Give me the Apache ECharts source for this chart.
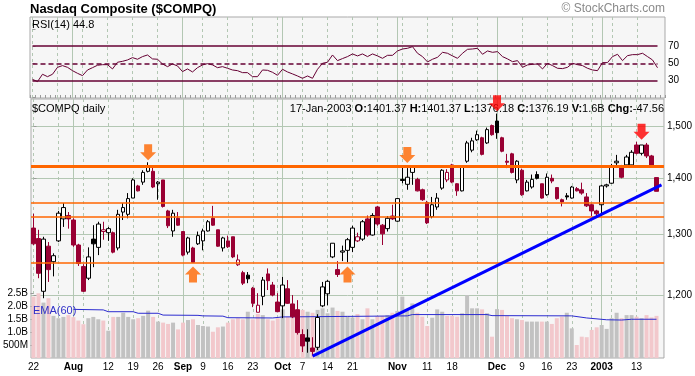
<!DOCTYPE html>
<html style="height: 100%">
<head>
    <meta charset="utf-8">
</head>
<body style="height: 100%; margin: 0; background: #ffffff">
<div id="container" style="width: 695px; height: 376px"></div>
<script type="text/javascript" src="https://cdn.jsdelivr.net/npm/echarts@6/dist/echarts.min.js"></script>
<script type="text/javascript">
    var dom = document.getElementById("container");
    var myChart = echarts.init(dom);

    // trading days, 22-Jul-2002 .. 17-Jan-2003 (last slot = next session, room for the trend line)
    var dates = ['7/22','7/23','7/24','7/25','7/26','7/29','7/30','7/31',
        '8/1','8/2','8/5','8/6','8/7','8/8','8/9','8/12','8/13','8/14','8/15','8/16','8/19','8/20','8/21','8/22','8/23','8/26','8/27','8/28','8/29','8/30',
        '9/3','9/4','9/5','9/6','9/9','9/10','9/11','9/12','9/13','9/16','9/17','9/18','9/19','9/20','9/23','9/24','9/25','9/26','9/27','9/30',
        '10/1','10/2','10/3','10/4','10/7','10/8','10/9','10/10','10/11','10/14','10/15','10/16','10/17','10/18','10/21','10/22','10/23','10/24','10/25','10/28','10/29','10/30','10/31',
        '11/1','11/4','11/5','11/6','11/7','11/8','11/11','11/12','11/13','11/14','11/15','11/18','11/19','11/20','11/21','11/22','11/25','11/26','11/27','11/29',
        '12/2','12/3','12/4','12/5','12/6','12/9','12/10','12/11','12/12','12/13','12/16','12/17','12/18','12/19','12/20','12/23','12/24','12/26','12/27','12/30','12/31',
        '1/2','1/3','1/6','1/7','1/8','1/9','1/10','1/13','1/14','1/15','1/16','1/17','1/21'];

    var openList = [1311,1293,1206,1280,1254,1289,1327,1333,1325,1282,1246,1227,1292,1278,1305,1303,1303,1277,1339,1335,1364,1386,1393,1413,1413,1390,1397,1341,1306,1328,
        1305,1270,1277,1284,1289,1306,1328,1308,1277,1289,1296,1249,1236,1232,1211,1173,1198,1234,1216,1189,
        1183,1210,1186,1177,1139,1134,1119,1120,1183,1202,1262,1241,1270,1273,1278,1289,1292,1327,1299,1348,1316,1310,1332,
        1323,1398,1389,1411,1398,1379,1356,1331,1348,1382,1397,1425,1390,1377,1432,1453,1473,1477,1467,1501,
        1510,1477,1432,1446,1397,1415,1377,1384,1407,1390,1370,1400,1383,1361,1368,1364,1381,1379,1366,1352,1341,
        1352,1386,1391,1429,1423,1425,1425,1463,1447,1463,1442,1401.37];
    var highList = [1336,1308,1296,1287,1268,1341,1355,1339,1328,1284,1250,1278,1316,1322,1322,1313,1305,1343,1355,1373,1400,1388,1415,1430,1423,1395,1397,1343,1343,1339,
        1305,1296,1279,1305,1310,1325,1350,1308,1296,1298,1296,1266,1239,1237,1213,1203,1229,1243,1221,1203,
        1229,1224,1200,1192,1147,1147,1135,1170,1221,1224,1285,1255,1281,1294,1315,1303,1325,1333,1337,1350,1318,1332,1352,
        1364,1423,1419,1423,1401,1381,1359,1366,1373,1417,1417,1427,1391,1423,1471,1477,1491,1479,1497,1503,
        1525,1479,1446,1448,1434,1418,1397,1407,1413,1390,1409,1407,1384,1363,1373,1386,1384,1392,1373,1354,1343,
        1388,1390,1427,1444,1425,1444,1453,1469,1463,1467,1444,1401.37];
    var lowList = [1282,1227,1195,1221,1230,1287,1313,1310,1279,1247,1205,1224,1245,1265,1291,1289,1268,1273,1325,1328,1364,1376,1388,1411,1382,1361,1347,1311,1296,1315,
        1263,1266,1253,1282,1273,1305,1315,1279,1271,1277,1260,1247,1216,1219,1181,1173,1184,1208,1198,1173,
        1164,1186,1164,1139,1113,1112,1108,1116,1181,1184,1260,1229,1255,1253,1270,1287,1289,1296,1298,1315,1282,1305,1325,
        1322,1391,1379,1388,1376,1359,1318,1328,1343,1379,1393,1391,1368,1376,1429,1449,1471,1443,1465,1481,
        1475,1449,1419,1409,1391,1368,1376,1381,1398,1363,1368,1391,1361,1349,1361,1363,1376,1370,1348,1332,1332,
        1332,1383,1390,1423,1400,1420,1420,1445,1443,1438,1420,1376.18];
    var closeList = [1284,1235,1292,1241,1264,1337,1347,1327,1282,1251,1206,1262,1284,1318,1308,1310,1270,1335,1347,1363,1397,1377,1411,1423,1384,1393,1349,1315,1337,1316,
        1265,1294,1253,1298,1306,1322,1316,1280,1294,1279,1262,1257,1219,1226,1187,1184,1224,1223,1200,1174,
        1216,1187,1166,1142,1122,1129,1114,1165,1213,1222,1285,1233,1272,1291,1311,1296,1322,1299,1333,1318,1301,1328,1327,
        1363,1396,1402,1421,1377,1361,1320,1352,1364,1415,1411,1393,1377,1421,1467,1471,1483,1445,1493,1483,
        1487,1451,1430,1411,1432,1370,1393,1398,1400,1364,1402,1395,1363,1357,1366,1384,1377,1373,1350,1341,1336,
        1386,1388,1423,1432,1402,1440,1449,1447,1463,1442,1423.75,1376.19];
    // volume, billions of shares
    var volumeList = [2.36,2.49,2.13,2.30,1.62,1.53,1.58,1.65,1.57,1.44,1.30,1.53,1.58,1.49,1.44,1.05,1.58,1.58,1.74,1.58,1.49,1.53,1.62,1.82,1.58,1.40,1.36,1.31,1.36,1.10,
        1.36,1.46,1.49,1.27,1.23,1.21,1.01,1.18,1.21,1.36,1.49,1.53,1.49,1.78,1.49,1.69,1.65,1.49,1.44,1.53,
        1.87,1.58,1.72,1.85,1.85,1.78,1.74,1.85,1.91,1.72,1.94,1.81,1.78,1.62,1.56,1.69,1.49,1.91,1.49,1.62,1.62,1.65,1.74,
        1.81,2.36,1.82,2.10,1.74,1.59,1.23,1.55,1.87,1.78,1.62,1.62,1.59,1.72,2.42,1.91,1.91,1.87,1.72,0.82,
        1.88,1.85,1.62,1.53,1.49,1.46,1.40,1.40,1.40,1.40,1.40,1.31,1.53,1.59,1.74,1.14,0.50,0.82,0.80,1.08,1.18,
        1.27,1.12,1.53,1.74,1.53,1.65,1.65,1.59,1.53,1.65,1.56,1.62];
    var rsiList = [31.3,28.6,37.2,34.4,37.2,45.3,47.3,45.3,41.4,38.3,35.6,42.2,44.9,47.7,48.4,48.4,43.4,51.2,52.3,53.9,56.6,54.7,57.8,59.7,55.1,54.7,49.2,46.1,49.2,46.9,
        40.3,43.4,39.9,44.9,48.1,49.6,48.1,44.9,46.1,44.2,42.2,41.4,39.1,39.1,34.4,34.4,42.2,41.8,39.5,36.0,
        43.0,39.9,37.6,35.2,32.5,35.2,32.5,43.0,50.0,51.2,59.7,53.1,55.5,57.8,60.9,58.6,60.9,57.8,60.9,58.6,55.8,59.3,59.3,
        64.4,66.7,67.5,69.4,61.7,57.8,51.6,54.7,57.0,62.8,61.7,58.6,55.8,61.7,66.3,66.7,67.5,60.5,64.4,62.8,
        63.6,57.8,55.1,51.9,53.1,45.3,48.1,48.8,49.2,43.4,50.0,47.3,44.2,43.8,45.3,50.0,48.4,47.3,44.2,42.2,41.4,
        50.8,50.8,57.8,60.5,53.1,58.9,60.1,60.1,61.7,57.8,53.9,44.8];
    // EMA(60) of volume, read where the line changes level
    var emaPoints = [['8/1',1.87],['8/9',1.85],['8/12',1.78],['8/19',1.78],['8/20',1.72],['8/26',1.72],['8/27',1.65],['9/6',1.64],['9/9',1.62],
        ['9/13',1.61],['9/16',1.55],['9/27',1.54],['10/1',1.58],['10/18',1.60],['11/5',1.62],['11/6',1.67],['11/27',1.67],['11/29',1.63],
        ['12/23',1.62],['12/27',1.54],['1/3',1.47],['1/8',1.46],['1/10',1.49],['1/17',1.49]];

    var trendLine = [['10/9', 1107], ['1/21', 1388]];
    var orangeLevels = [1423, 1356, 1330, 1253];
    var rsiLevels = [70, 50, 30];
    var orangeDown = [['8/22', 1449], ['11/5', 1444]];
    var redDown = [['12/2', 1546], ['1/14', 1489]];
    var orangeUp = [['9/5', 1233], ['10/18', 1233]];

    var weekStarts = ['7/22','7/29','8/5','8/12','8/19','8/26','9/9','9/16','9/23','9/30','10/7','10/14','10/21','10/28',
        '11/4','11/11','11/18','11/25','12/9','12/16','12/23','12/30','1/6','1/13'];
    var monthLabels = [['8/1','Aug'],['9/3','Sep'],['10/1','Oct'],['11/1','Nov'],['12/2','Dec'],['1/2','2003']];
    var dayLabels = [['7/22','22'],['8/12','12'],['8/19','19'],['8/26','26'],['9/9','9'],['9/16','16'],['9/23','23'],
        ['10/7','7'],['10/14','14'],['10/21','21'],['11/11','11'],['11/18','18'],['12/9','9'],['12/16','16'],['12/23','23'],['1/13','13']];
    var priceTicks = [1200, 1300, 1400, 1500];
    var volumeTicks = [0.5, 1.0, 1.5, 2.0, 2.5];
    var rsiTicks = [30, 50, 70];

    var FONT = 'Liberation Sans, Arial, sans-serif';
    var GRIDC = '#b3c7b3';
    var DOWN_ARROW = 'path://M4,0 L12,0 L12,8 L16,8 L8,16 L0,8 L4,8 Z';
    var UP_ARROW = 'path://M8,0 L16,8 L12,8 L12,16 L4,16 L4,8 L0,8 Z';

    function idx(d) { return dates.indexOf(d); }

    var weekIdx = weekStarts.map(idx);
    var monthIdx = monthLabels.map(function (m) { return idx(m[0]); });
    var labelText = {};
    dayLabels.forEach(function (l) { labelText[idx(l[0])] = l[1]; });
    monthLabels.forEach(function (l) { labelText[idx(l[0])] = '{b|' + l[1] + '}'; });
    var labelIdx = Object.keys(labelText).map(Number);

    var candleData = [];
    var volData = [];
    for (let i = 0; i < closeList.length; i++) {
        const down = i === 0 || closeList[i] < closeList[i - 1];
        const edge = down ? '#990033' : '#000000';
        const fill = closeList[i] > openList[i] ? '#ffffff' : edge;
        candleData.push({
            value: [openList[i], closeList[i], lowList[i], highList[i]],
            itemStyle: {color: fill, color0: fill, borderColor: edge, borderColor0: edge}
        });
        volData.push({value: volumeList[i], itemStyle: {color: down ? '#f2c8cc' : '#c2c2c2'}});
    }

    var n = closeList.length - 1;
    var header = '17-Jan-2003 {b|O:}' + openList[n].toFixed(2) + ' {b|H:}' + highList[n].toFixed(2) +
        ' {b|L:}' + lowList[n].toFixed(2) + ' {b|C:}' + closeList[n].toFixed(2) +
        ' {b|V:}' + volumeList[n].toFixed(1) + 'B {b|Chg:}' + (closeList[n] - closeList[n - 1]).toFixed(2);

    function gridAxis(gridIndex, ticks, type) {
        return {
            type: 'value', gridIndex: gridIndex, min: -0.5, max: dates.length - 0.5,
            axisLine: {show: false}, axisLabel: {show: false},
            axisTick: {show: false, customValues: ticks},
            splitLine: {show: true, lineStyle: {color: GRIDC, width: 1, type: type}}
        };
    }

    var mainLabelAxis = gridAxis(1, weekIdx, [3, 3]);
    mainLabelAxis.position = 'bottom';
    mainLabelAxis.axisLabel = {
        show: true, customValues: labelIdx, fontSize: 10, color: '#000', margin: 4, fontFamily: FONT,
        formatter: function (v) { return labelText[Math.round(v)] || ''; },
        rich: {b: {fontWeight: 'bold', fontSize: 10, fontFamily: FONT}}
    };

    function arrowSeries(points, symbol, color) {
        return {
            type: 'scatter', xAxisIndex: 3, yAxisIndex: 1, data: points, symbol: symbol,
            symbolSize: [16, 16], itemStyle: {color: color}, z: 10, clip: false, silent: true
        };
    }

    var option = {
        animation: false,
        backgroundColor: '#ffffff',
        textStyle: {fontFamily: FONT},
        title: [
            {text: 'Nasdaq Composite ($COMPQ)', left: 30, top: 3, padding: 0,
                textStyle: {fontSize: 13, fontWeight: 'bold', color: '#000', fontFamily: FONT}},
            {text: '\u00a9 StockCharts.com', right: 30, top: 3, padding: 0,
                textStyle: {fontSize: 12, fontWeight: 'normal', color: '#8a8a8a', fontFamily: FONT}},
            {text: 'RSI(14) ' + rsiList[n].toFixed(1), left: 32, top: 19, padding: 0,
                textStyle: {fontSize: 11, fontWeight: 'normal', color: '#000', fontFamily: FONT}},
            {text: '$COMPQ daily', left: 32, top: 103, padding: 0,
                textStyle: {fontSize: 11, fontWeight: 'normal', color: '#000', fontFamily: FONT}},
            {text: header, right: 31, top: 103, padding: 0,
                textStyle: {fontSize: 11, fontWeight: 'normal', color: '#000', fontFamily: FONT,
                    rich: {b: {fontWeight: 'bold', fontSize: 11, fontFamily: FONT}}}},
            {text: 'EMA(60)', left: 33, top: 305, padding: 0,
                textStyle: {fontSize: 11, fontWeight: 'normal', color: '#3030c8', fontFamily: FONT}}
        ],
        grid: [
            {left: 30, top: 17, width: 635, height: 81, show: true, backgroundColor: '#f6f6f6', borderColor: '#a9a9a9', borderWidth: 1},
            {left: 30, top: 99, width: 635, height: 259, show: true, backgroundColor: '#f6f6f6', borderColor: '#a9a9a9', borderWidth: 1}
        ],
        xAxis: [
            {type: 'category', gridIndex: 0, data: dates, position: 'bottom',
                axisLine: {show: false}, axisLabel: {show: false}, splitLine: {show: false},
                axisTick: {show: true, inside: true, interval: 0, length: 3, lineStyle: {color: '#9a9a9a'}}},
            gridAxis(0, weekIdx, [3, 3]),
            gridAxis(0, monthIdx, 'solid'),
            {type: 'category', gridIndex: 1, data: dates, position: 'top',
                axisLine: {show: false}, axisLabel: {show: false}, axisTick: {show: false}, splitLine: {show: false}},
            mainLabelAxis,
            gridAxis(1, monthIdx, 'solid')
        ],
        yAxis: [
            {type: 'value', gridIndex: 0, min: 9.5, max: 104, position: 'right',
                axisLine: {show: false}, splitLine: {show: false},
                axisTick: {show: true, customValues: [10, 30, 50, 70, 90], length: 3, lineStyle: {color: '#9a9a9a'}},
                axisLabel: {customValues: rsiTicks, fontSize: 10, color: '#000', margin: 3, fontFamily: FONT}},
            {type: 'log', logBase: 10, gridIndex: 1, min: 1104.3, max: 1554.6, position: 'right',
                axisLine: {show: false},
                axisTick: {show: true, customValues: priceTicks, length: 3, lineStyle: {color: '#9a9a9a'}},
                axisLabel: {customValues: priceTicks, fontSize: 10, color: '#000', margin: 3, fontFamily: FONT},
                splitLine: {show: true, lineStyle: {color: GRIDC, width: 1}}},
            {type: 'value', gridIndex: 1, min: 0, max: 9.96, position: 'left',
                axisLine: {show: false}, splitLine: {show: false},
                axisTick: {show: true, customValues: volumeTicks, length: 3, lineStyle: {color: '#9a9a9a'}},
                axisLabel: {customValues: volumeTicks, fontSize: 10, color: '#000', margin: 3, fontFamily: FONT,
                    formatter: function (v) { return v < 1 ? Math.round(v * 1000) + 'M' : v.toFixed(1) + 'B'; }}}
        ],
        series: [
            {
                name: 'RSI', type: 'line', xAxisIndex: 0, yAxisIndex: 0, data: rsiList,
                symbol: 'none', lineStyle: {color: '#660033', width: 1}, z: 3, silent: true,
                markLine: {
                    silent: true, symbol: ['none', 'none'], label: {show: false},
                    lineStyle: {color: '#660033', width: 1.5, type: 'solid'},
                    data: rsiLevels.map(function (lv) {
                        return [{coord: [dates[0], lv], lineStyle: {type: lv === 50 ? [5, 3] : 'solid'}},
                            {coord: [dates[n], lv]}];
                    })
                }
            },
            {
                name: 'Volume', type: 'bar', xAxisIndex: 3, yAxisIndex: 2, data: volData,
                barWidth: 4, z: 1, silent: true
            },
            {
                name: 'EMA(60)', type: 'line', xAxisIndex: 3, yAxisIndex: 2, data: emaPoints,
                symbol: 'none', lineStyle: {color: '#2c2cd0', width: 1}, z: 3, silent: true
            },
            {
                name: '$COMPQ', type: 'candlestick', xAxisIndex: 3, yAxisIndex: 1, data: candleData,
                barWidth: 4, z: 4, silent: true,
                itemStyle: {borderWidth: 1},
                markLine: {
                    silent: true, symbol: ['none', 'none'], label: {show: false},
                    lineStyle: {color: '#ff6600', width: 1.5, type: 'solid'},
                    data: orangeLevels.map(function (lv, k) {
                        return {yAxis: lv, lineStyle: {width: k === 0 ? 3 : 1.5}};
                    })
                }
            },
            {
                name: 'Trend', type: 'line', xAxisIndex: 3, yAxisIndex: 1, data: trendLine,
                symbol: 'none', lineStyle: {color: '#0000ff', width: 3}, z: 6, silent: true
            },
            arrowSeries(orangeDown, DOWN_ARROW, '#ff6600'),
            arrowSeries(redDown, DOWN_ARROW, '#ff0000'),
            arrowSeries(orangeUp, UP_ARROW, '#ff6600')
        ]
    };

    if (option && typeof option === 'object') {
        myChart.setOption(option);
    }
</script>
</body>
</html>
